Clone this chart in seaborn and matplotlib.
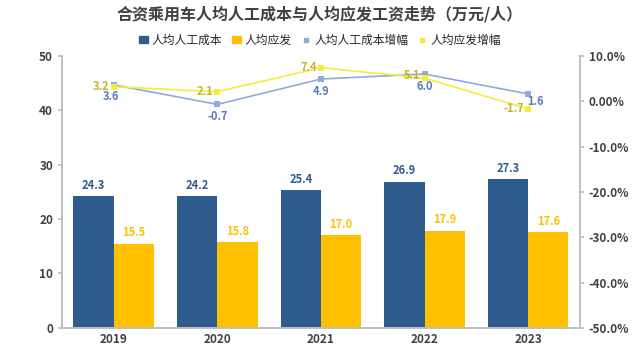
import seaborn as sns
import matplotlib.pyplot as plt
import pandas as pd
from matplotlib.lines import Line2D
from matplotlib.patches import Patch

years = ['2019', '2020', '2021', '2022', '2023']
labor_cost = [24.3, 24.2, 25.4, 26.9, 27.3]
wage = [15.5, 15.8, 17.0, 17.9, 17.6]
labor_cost_growth = [3.6, -0.7, 4.9, 6.0, 1.6]
wage_growth = [3.2, 2.1, 7.4, 5.1, -1.7]

c_bar1 = '#2F5C8F'
c_bar2 = '#FFC000'
c_line1 = '#8FAADC'
c_line2 = '#F7EC3A'

sns.set_theme(style='white')
plt.rcParams['font.family'] = ['Noto Sans CJK SC', 'DejaVu Sans']

bars = pd.DataFrame({
    'year': years * 2,
    'value': labor_cost + wage,
    'series': ['人均人工成本'] * 5 + ['人均应发'] * 5,
})

fig, ax = plt.subplots(figsize=(6.4, 3.56), dpi=100)
sns.barplot(data=bars, x='year', y='value', hue='series', saturation=1,
            palette=[c_bar1, c_bar2], width=0.78, gap=0, linewidth=0,
            ax=ax, legend=False)
for cont, col in zip(ax.containers, [c_bar1, c_bar2]):
    ax.bar_label(cont, fmt='%.1f', padding=3, color=col, fontsize=8, fontweight='bold')

ax.set_ylim(0, 50)
ax.set_xlim(-0.5, 4.5)
ax.set_yticks(range(0, 51, 10))
ax.set_xlabel('')
ax.set_ylabel('')

ax2 = ax.twinx()
x = list(range(5))
sns.lineplot(x=x, y=labor_cost_growth, ax=ax2, color=c_line1, marker='s',
             markersize=4, markeredgewidth=0, linewidth=1.2, label='人均人工成本增幅')
sns.lineplot(x=x, y=wage_growth, ax=ax2, color=c_line2, marker='s',
             markersize=4, markeredgewidth=0, linewidth=1.2, label='人均应发增幅')
ax2.set_ylim(-50, 10)
ax2.set_yticks(range(-50, 11, 10))
ax2.set_yticklabels(['-50.0%', '-40.0%', '-30.0%', '-20.0%', '-10.0%', '0.00%', '10.0%'])
ax2.get_legend().remove()

blue_offsets = [(-2, -4), (0, -4), (0, -4), (0, -4), (5, -1)]
yellow_offsets = [(-3, 0), (-3, 0), (-3, 0), (-3, 2), (-3, 0)]
for i, v in enumerate(labor_cost_growth):
    ax2.annotate(f'{v:.1f}', (i, v), xytext=blue_offsets[i], textcoords='offset points',
                 ha='center', va='top', color='#5B7DB8', fontsize=8, fontweight='bold')
for i, v in enumerate(wage_growth):
    ax2.annotate(f'{v:.1f}', (i, v), xytext=yellow_offsets[i], textcoords='offset points',
                 ha='right', va='center', color='#C4B428', fontsize=8, fontweight='bold')

for a in (ax, ax2):
    for s in a.spines.values():
        s.set_color('#BFBFBF')
    a.spines['top'].set_visible(False)
    a.tick_params(labelsize=8.5, length=3, color='#BFBFBF', labelcolor='#404040')
    for t in a.get_xticklabels() + a.get_yticklabels():
        t.set_fontweight('bold')
ax.tick_params(axis='x', length=0)

handles = [Patch(color=c_bar1), Patch(color=c_bar2),
           Line2D([], [], color=c_line1, marker='s', linestyle='', markersize=3),
           Line2D([], [], color=c_line2, marker='s', linestyle='', markersize=3)]
names = ['人均人工成本', '人均应发', '人均人工成本增幅', '人均应发增幅']
fig.legend(handles, names, loc='upper center', bbox_to_anchor=(0.5, 0.935), ncol=4,
           frameon=False, fontsize=8.5, handlelength=0.8, handleheight=0.5,
           handletextpad=0.3, columnspacing=0.8)
fig.suptitle('合资乘用车人均人工成本与人均应发工资走势（万元/人）', y=0.985,
             fontsize=11.5, fontweight='bold', color='#404040')

fig.subplots_adjust(left=0.097, right=0.906, top=0.843, bottom=0.079)
fig.savefig('out.png', dpi=100)
